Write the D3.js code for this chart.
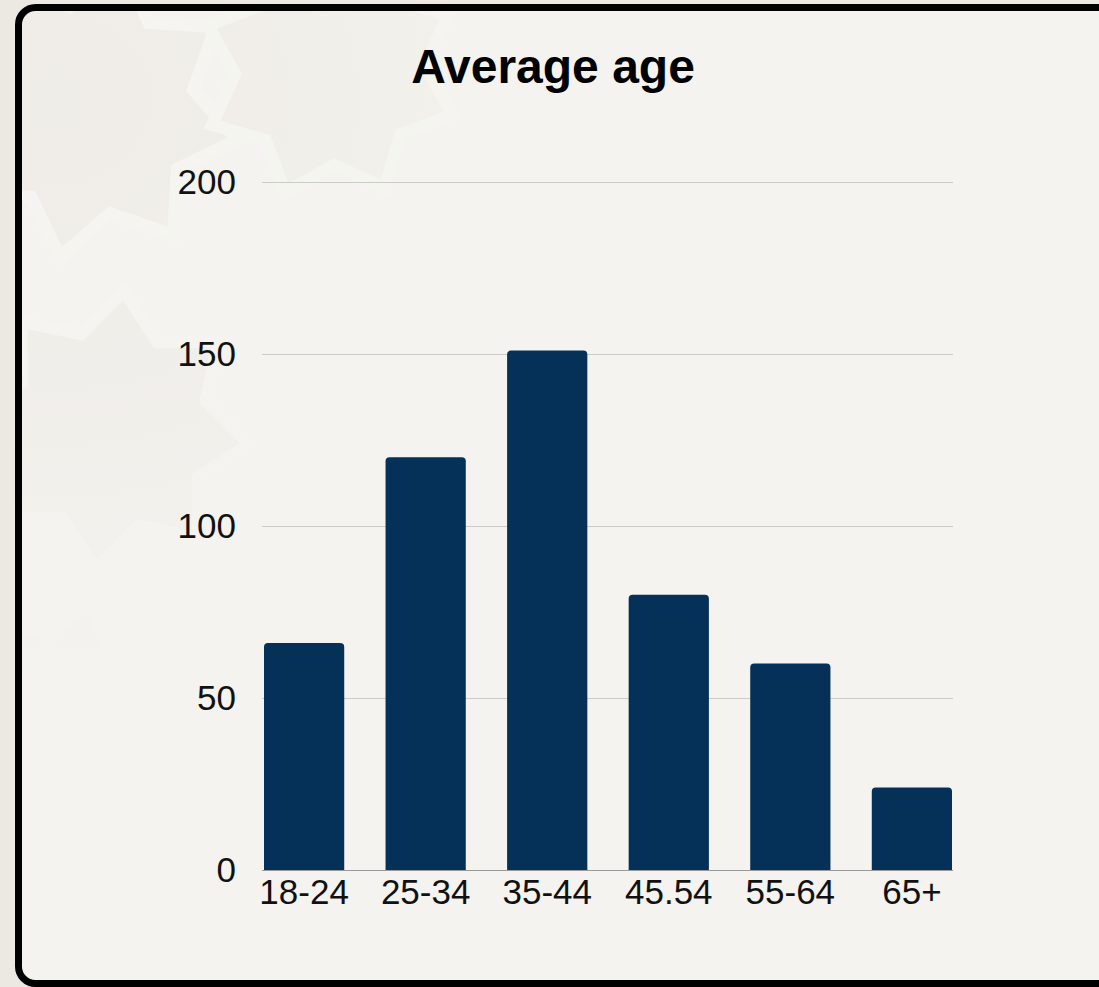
<!DOCTYPE html>
<html lang="en">
<head>
  <meta charset="UTF-8">
  <title>Average age</title>
  <style type="text/css">
    body{
      margin: 0;
      background: #ece9e2;
      font-family: "Liberation Sans", Arial, sans-serif;
    }
    .tick-label{
      font-size: 35px;
      fill: #111;
    }
    .title{
      font-size: 48px;
      font-weight: bold;
      fill: #000;
    }
  </style>
  <script type="text/javascript" src="https://d3js.org/d3.v7.min.js"></script>
</head>
<body>
<script type="text/javascript">
  // data
  var ageGroups = ['18-24', '25-34', '35-44', '45.54', '55-64', '65+'];
  var counts = [66, 120, 151, 80, 60, 24];
  var yTicks = [0, 50, 100, 150, 200];

  var W = 1099, H = 987;

  var svg = d3.select('body')
    .append('svg')
    .attr('width', W)
    .attr('height', H)
    .style('display', 'block');

  var defs = svg.append('defs');
  defs.append('clipPath')
    .attr('id', 'cardClip')
    .append('rect')
    .attr('x', 18).attr('y', 7)
    .attr('width', 1100).attr('height', 977)
    .attr('rx', 17);

  var fade = defs.append('radialGradient')
    .attr('id', 'fade')
    .attr('cx', 0.05).attr('cy', 0.1).attr('r', 0.6);
  fade.append('stop').attr('offset', '0').attr('stop-color', '#f4f3ef').attr('stop-opacity', 0);
  fade.append('stop').attr('offset', '0.55').attr('stop-color', '#f4f3ef').attr('stop-opacity', 0.5);
  fade.append('stop').attr('offset', '1').attr('stop-color', '#f4f3ef').attr('stop-opacity', 1);

  // card
  svg.append('rect')
    .attr('x', 18.5).attr('y', 7.5)
    .attr('width', 1100).attr('height', 976)
    .attr('rx', 17)
    .attr('fill', '#f4f3ef');

  // faint geometric background in the top-left corner
  var deco = svg.append('g')
    .attr('clip-path', 'url(#cardClip)')
    .attr('fill', '#eeebe5')
    .attr('stroke', '#f7f6f2')
    .attr('stroke-width', 12)
    .attr('opacity', 0.8);

  function star(cx, cy, r1, r2, n, rot){
    var pts = [];
    for (var i = 0; i < n * 2; i++){
      var r = i % 2 ? r2 : r1;
      var a = rot + Math.PI * i / n;
      pts.push([cx + r * Math.cos(a), cy + r * Math.sin(a)]);
    }
    return 'M' + pts.join('L') + 'Z';
  }
  var stars = [
    [90, 110, 150, 105, 8, 0.2],
    [110, 430, 140, 100, 8, 0.1],
    [330, 70, 130, 95, 8, 0.35],
    [60, 720, 120, 85, 8, 0.25]
  ];
  deco.selectAll('path')
    .data(stars)
    .enter().append('path')
    .attr('d', function(d){ return star(d[0], d[1], d[2], d[3], d[4], d[5]); });
  deco.append('rect')
    .attr('x', 0).attr('y', 0).attr('width', 1100).attr('height', 987)
    .attr('fill', 'url(#fade)').attr('stroke', 'none');

  // card border on top
  svg.append('rect')
    .attr('x', 18.5).attr('y', 7.5)
    .attr('width', 1100).attr('height', 976)
    .attr('rx', 17)
    .attr('fill', 'none')
    .attr('stroke', '#000')
    .attr('stroke-width', 7);

  var xScale = d3.scaleBand()
    .domain(ageGroups)
    .range([264, 952])
    .paddingInner(0.34)
    .paddingOuter(0);

  var yScale = d3.scaleLinear()
    .domain([0, 200])
    .range([870, 182]);

  // title
  svg.append('text')
    .attr('class', 'title')
    .attr('x', 553)
    .attr('y', 83)
    .attr('text-anchor', 'middle')
    .text('Average age');

  // gridlines
  svg.append('g')
    .selectAll('line')
    .data(yTicks.filter(function(d){ return d > 0; }))
    .enter().append('line')
    .attr('x1', 262)
    .attr('x2', 953)
    .attr('y1', function(d){ return yScale(d) + 0.5; })
    .attr('y2', function(d){ return yScale(d) + 0.5; })
    .attr('stroke', '#cbcbc8')
    .attr('stroke-width', 1);

  // baseline
  svg.append('line')
    .attr('x1', 262).attr('x2', 953)
    .attr('y1', yScale(0) + 0.5).attr('y2', yScale(0) + 0.5)
    .attr('stroke', '#999')
    .attr('stroke-width', 1);

  // y axis labels
  var yAxis = d3.axisLeft(yScale)
    .tickValues(yTicks)
    .tickSize(0)
    .tickPadding(26);

  var yg = svg.append('g')
    .attr('transform', 'translate(262,0)')
    .call(yAxis);
  yg.select('.domain').remove();
  yg.selectAll('text')
    .attr('class', 'tick-label')
    .attr('font-family', null)
    .attr('font-size', null)
    .attr('fill', null);

  // bars with rounded tops
  var rr = 4;
  function barPath(d, i){
    var x0 = xScale(ageGroups[i]);
    var x1 = x0 + xScale.bandwidth();
    var y0 = yScale(0);
    var y1 = yScale(d);
    return 'M' + x0 + ',' + y0 +
      'L' + x0 + ',' + (y1 + rr) +
      'Q' + x0 + ',' + y1 + ' ' + (x0 + rr) + ',' + y1 +
      'L' + (x1 - rr) + ',' + y1 +
      'Q' + x1 + ',' + y1 + ' ' + x1 + ',' + (y1 + rr) +
      'L' + x1 + ',' + y0 + 'Z';
  }

  svg.append('g')
    .selectAll('path')
    .data(counts)
    .enter().append('path')
    .attr('d', barPath)
    .attr('fill', '#053057');

  // x axis labels
  var xAxis = d3.axisBottom(xScale)
    .tickSize(0)
    .tickPadding(9);

  var xg = svg.append('g')
    .attr('transform', 'translate(0,870)')
    .call(xAxis);
  xg.select('.domain').remove();
  xg.selectAll('text')
    .attr('class', 'tick-label')
    .attr('font-family', null)
    .attr('font-size', null)
    .attr('fill', null);
</script>
</body>
</html>
